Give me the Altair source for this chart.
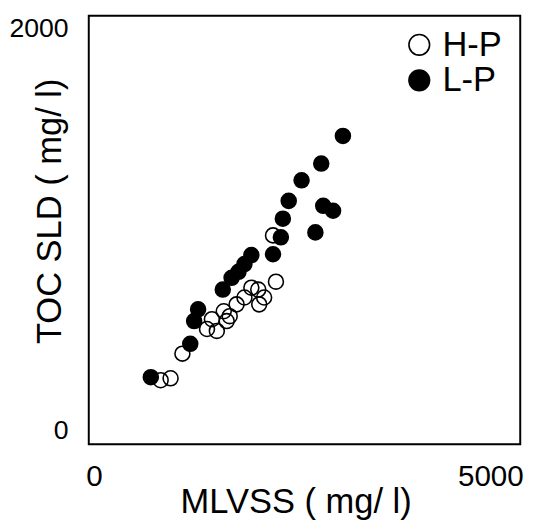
import altair as alt
import pandas as pd

FONT = "Liberation Sans"

# H-P (open circles)
hp_x = [833, 948, 1085, 1370, 1484, 1564, 1633, 1713, 1804, 1884, 1975, 2032, 2169, 2135, 1598, 1427, 1964]
hp_y = [299, 308, 423, 538, 529, 621, 598, 653, 685, 731, 653, 685, 759, 975, 575, 584, 722]
# L-P (filled circles)
lp_x = [719, 1176, 1221, 1267, 1553, 1655, 1735, 1804, 1884, 2135, 2226, 2249, 2317, 2466, 2694, 2945, 2626, 2717, 2831]
lp_y = [313, 469, 575, 630, 722, 777, 805, 841, 883, 887, 966, 1053, 1136, 1232, 1310, 1439, 989, 1113, 1090]

groups = ["H-P", "L-P"]
x_ticks = [0, 5000]
y_ticks = [0, 2000]

df = pd.DataFrame({
    "MLVSS": hp_x + lp_x,
    "TOC": hp_y + lp_y,
    "group": [groups[0]] * len(hp_x) + [groups[1]] * len(lp_x),
    "ord": list(range(len(hp_x) + len(lp_x))),
})

chart = alt.Chart(df).mark_point(
    shape="circle", size=230, stroke="black", strokeWidth=1.6, opacity=1
).encode(
    x=alt.X("MLVSS:Q", scale=alt.Scale(domain=[0, 5000], nice=False, zero=False),
            axis=alt.Axis(values=x_ticks, format="d", labelFlush=True, labelFlushOffset=3,
                          ticks=False, grid=False, domain=False,
                          labelFontSize=30, labelPadding=18, labelFont=FONT, labelColor="black",
                          title="MLVSS ( mg/ l)", titleFont=FONT, titleFontSize=35, titleFontWeight="normal",
                          titleColor="black", titleX=210, titleY=58, titleBaseline="middle")),
    y=alt.Y("TOC:Q", scale=alt.Scale(domain=[0, 2000], nice=False, zero=False),
            axis=alt.Axis(values=y_ticks, format="d", labelFlush=True, ticks=False, grid=False, domain=False,
                          labelFontSize=27, labelPadding=21, labelFont=FONT, labelColor="black",
                          title="TOC SLD ( mg/ l)", titleFont=FONT, titleFontSize=35, titleFontWeight="normal",
                          titleColor="black", titleX=-40, titleY=198, titleBaseline="middle",
                          titleAlign="center", titleAngle=270)),
    fill=alt.Fill("group:N", scale=alt.Scale(domain=groups, range=["transparent", "black"]),
                  legend=alt.Legend(title=None, orient="none", legendX=318, legendY=12, symbolSize=440,
                                    symbolStrokeColor="black", symbolStrokeWidth=1.6,
                                    labelFontSize=35, labelFont=FONT, labelColor="black",
                                    labelOffset=6, rowPadding=0, symbolType="circle", padding=0)),
    order=alt.Order("ord:Q"),
).properties(
    width=438, height=435,
    background="white",
    autosize=alt.AutoSizeParams(type="none"),
    padding={"left": 82, "top": 4, "right": 16, "bottom": 74},
).configure_view(
    stroke="black", strokeWidth=2, strokeOpacity=1
)

chart.save("out.html", embed_options={"renderer": "svg", "actions": False})
